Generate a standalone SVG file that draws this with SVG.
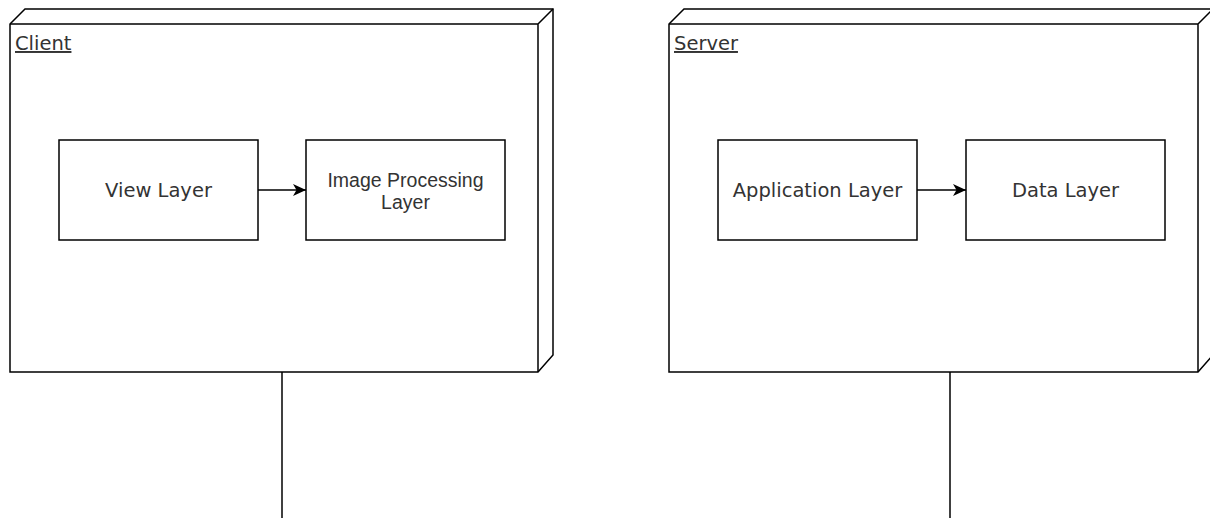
<svg xmlns="http://www.w3.org/2000/svg" width="1210" height="518" viewBox="0 0 1210 518">
<style>
.shape{fill:#fff;stroke:#000;stroke-width:1.5}
.edge{fill:none;stroke:#000;stroke-width:1.5}
.lbl{font-family:"DejaVu Sans",Verdana,sans-serif;font-size:19.5px;fill:#333}
.lbl2{font-family:"Liberation Sans",Arial,sans-serif;font-size:19.5px;fill:#333}
.title{font-family:"DejaVu Sans",Verdana,sans-serif;font-size:19.5px;fill:#333;text-decoration:underline}
</style>
<defs>
<marker id="arr" viewBox="0 0 14 12" refX="13" refY="6" markerWidth="14" markerHeight="12" markerUnits="userSpaceOnUse" orient="auto">
<path d="M0,0 L13,6 L0,12 L3.5,6 Z" fill="#000"/>
</marker>
</defs>
<rect width="1210" height="518" fill="#fff"/>
<g id="client">
<path class="shape" d="M10,24 L25,9 L553,9 L553,355 L538,372 L10,372 Z"/>
<path class="edge" d="M10,24 L538,24 L538,372 M538,24 L553,9"/>
<text class="title" x="15" y="50">Client</text>
</g>
<g id="server">
<path class="shape" d="M669,24 L684,9 L1213,9 L1213,355 L1198,372 L669,372 Z"/>
<path class="edge" d="M669,24 L1198,24 L1198,372 M1198,24 L1213,9"/>
<text class="title" x="674" y="50">Server</text>
</g>
<g id="view-layer">
<rect class="shape" x="59" y="140" width="199" height="100"/>
<text class="lbl" x="158.5" y="197" text-anchor="middle">View Layer</text>
</g>
<g id="image-processing-layer">
<rect class="shape" x="306" y="140" width="199" height="100"/>
<text class="lbl2" x="405.5" y="187" text-anchor="middle">Image Processing</text>
<text class="lbl2" x="405.5" y="209" text-anchor="middle">Layer</text>
</g>
<g id="application-layer">
<rect class="shape" x="718" y="140" width="199" height="100"/>
<text class="lbl" x="817.5" y="197" text-anchor="middle">Application Layer</text>
</g>
<g id="data-layer">
<rect class="shape" x="966" y="140" width="199" height="100"/>
<text class="lbl" x="1065.5" y="197" text-anchor="middle">Data Layer</text>
</g>
<g id="connectors">
<line class="edge" x1="282" y1="372" x2="282" y2="518"/>
<line class="edge" x1="950" y1="372" x2="950" y2="518"/>
<line class="edge" x1="258" y1="190" x2="306" y2="190" marker-end="url(#arr)"/>
<line class="edge" x1="917" y1="190" x2="966" y2="190" marker-end="url(#arr)"/>
</g>
</svg>
